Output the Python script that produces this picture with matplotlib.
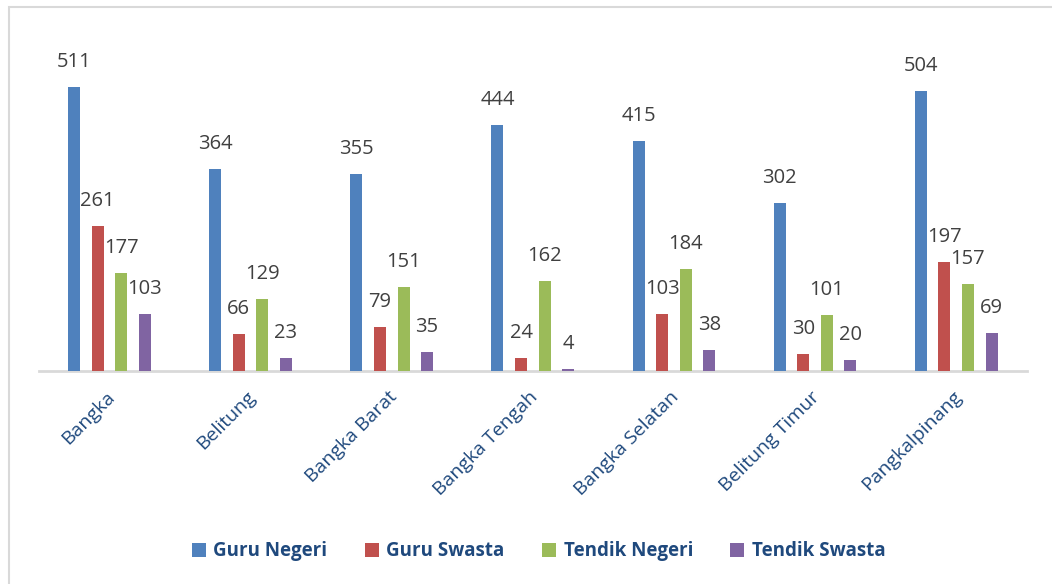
import numpy as np
import matplotlib
matplotlib.use('Agg')
import matplotlib.pyplot as plt
from matplotlib.patches import Rectangle

# ── data ───────────────────────────────────────────────────────────────────
categories = ['Bangka', 'Belitung', 'Bangka Barat', 'Bangka Tengah',
              'Bangka Selatan', 'Belitung Timur', 'Pangkalpinang']
guru_negeri   = [511, 364, 355, 444, 415, 302, 504]
guru_swasta   = [261, 66, 79, 24, 103, 30, 197]
tendik_negeri = [177, 129, 151, 162, 184, 101, 157]
tendik_swasta = [103, 23, 35, 4, 38, 20, 69]
series_names  = ['Guru Negeri', 'Guru Swasta', 'Tendik Negeri', 'Tendik Swasta']

COLORS = ['#4F81BD', '#C0504D', '#9BBB59', '#8064A2']
TXT = '#404040'
CAT = '#1F497D'

plt.rcParams['font.family'] = ['Open Sans', 'DejaVu Sans']

fig = plt.figure(figsize=(10.52, 5.84), dpi=100)
ax = fig.add_axes([0.037, 0.3647, 0.939, 0.5703])

# frame around the chart
fig.patches.append(Rectangle((9/1052, -0.01), 1.02, 1 - 7/584 + 0.01,
                             transform=fig.transFigure, fill=False,
                             ec='#D9D9D9', lw=1.5))

x = np.arange(len(categories))
pitch = 0.167
width = 0.085
all_series = [guru_negeri, guru_swasta, tendik_negeri, tendik_swasta]
for i, (vals, col, name) in enumerate(zip(all_series, COLORS, series_names)):
    pos = x + (i - 1.5) * pitch
    ax.bar(pos, vals, width, color=col, label=name, zorder=2)
    for p, v in zip(pos, vals):
        ax.annotate(str(v), (p, v), xytext=(0, 18), textcoords='offset points',
                    ha='center', va='center', fontsize=14.5, color=TXT)

ax.set_xlim(-0.5, len(categories) - 0.5)
ax.set_ylim(0, 600)
ax.set_yticks([])
for s in ['top', 'right', 'left']:
    ax.spines[s].set_visible(False)
ax.spines['bottom'].set_color('#D9D9D9')
ax.spines['bottom'].set_linewidth(2)
ax.spines['bottom'].set_zorder(1)

ax.set_xticks(x - 0.03)
ax.set_xticklabels(categories, rotation=45, ha='right', va='top',
                   rotation_mode='anchor', fontsize=14, color=CAT)
ax.tick_params(axis='x', length=0, pad=12)

leg = fig.legend(loc='center', bbox_to_anchor=(0.512, 0.056), ncol=4,
                 frameon=False, handlelength=0.75, handleheight=0.75,
                 columnspacing=2.0, handletextpad=0.4,
                 prop={'weight': 'bold', 'size': 13.5})
for t in leg.get_texts():
    t.set_color(CAT)

fig.savefig('out.png', dpi=100, facecolor='white')
